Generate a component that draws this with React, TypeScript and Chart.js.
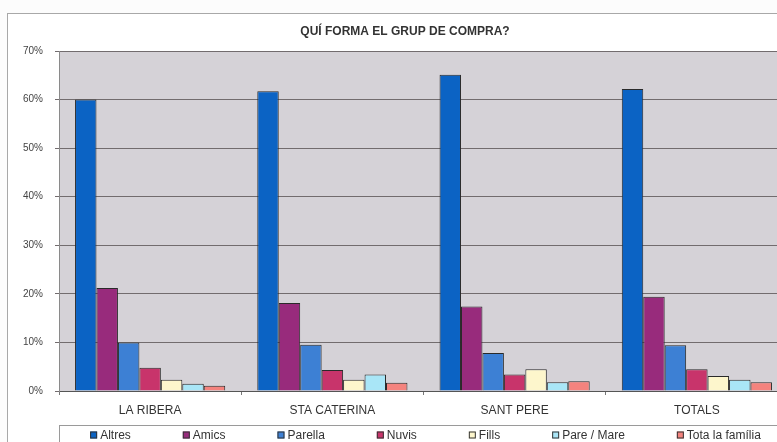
import React, { useEffect, useRef } from "react";
import { Chart, registerables } from "chart.js";

Chart.register(...registerables);

const categories = ["LA RIBERA", "STA CATERINA", "SANT PERE", "TOTALS"];
const seriesNames = ["Altres", "Amics", "Parella", "Nuvis", "Fills", "Pare / Mare", "Tota la família"];
const altres = [60.0, 61.7, 65.1, 62.2];
const amics = [21.2, 18.1, 17.4, 19.4];
const parella = [10.0, 9.5, 7.8, 9.4];
const nuvis = [4.8, 4.3, 3.4, 4.5];
const fills = [2.3, 2.3, 4.5, 3.1];
const pareMare = [1.5, 3.4, 1.8, 2.3];
const totaFamilia = [1.1, 1.7, 2.0, 1.8];
const yTicks = [0, 10, 20, 30, 40, 50, 60, 70];

const seriesValues = [altres, amics, parella, nuvis, fills, pareMare, totaFamilia];
const seriesColors = ["#0b63c4", "#982b7c", "#3d80d4", "#c8346b", "#fdf6cc", "#a9e6f7", "#f4837e"];

const FONT = "'Liberation Sans', Arial, sans-serif";

const plotBg = {
  id: "plotBg",
  beforeDraw(chart: any) {
    const { ctx, chartArea: a } = chart;
    ctx.save();
    ctx.fillStyle = "#d5d2d7";
    ctx.fillRect(a.left, a.top, a.right - a.left, a.bottom - a.top);
    ctx.restore();
  },
};

const boxLegend = {
  id: "boxLegend",
  afterDraw(chart: any) {
    const { ctx, chartArea: a } = chart;
    const ds = chart.data.datasets;
    ctx.save();
    // frame of legend
    ctx.strokeStyle = "#9a9a9a";
    ctx.lineWidth = 1;
    ctx.strokeRect(a.left + 0.5, a.bottom + 34.5, a.right - a.left + 30, 40);
    ctx.font = `12px ${FONT}`;
    ctx.textBaseline = "middle";
    const box = 7;
    const boxGap = 3;
    const gap = 52;
    const widths = ds.map((d: any) => box + boxGap + ctx.measureText(d.label).width);
    const total = widths.reduce((s: number, w: number) => s + w, 0) + gap * (ds.length - 1);
    let x = (a.left + a.right) / 2 + 2 - total / 2;
    const y = a.bottom + 44;
    ds.forEach((d: any, i: number) => {
      ctx.fillStyle = d.backgroundColor;
      ctx.fillRect(x, y - box / 2, box, box);
      ctx.strokeStyle = "#333";
      ctx.strokeRect(x + 0.5, y - box / 2 + 0.5, box - 1, box - 1);
      ctx.fillStyle = "#333";
      ctx.textAlign = "left";
      ctx.fillText(d.label, x + box + boxGap, y + 1);
      x += widths[i] + gap;
    });
    ctx.restore();
  },
};

export default function App() {
  const ref = useRef<HTMLCanvasElement | null>(null);
  useEffect(() => {
    if (!ref.current) return;
    const chart = new Chart(ref.current, {
      type: "bar",
      data: {
        labels: categories,
        datasets: seriesNames.map((name, i) => ({
          label: name,
          data: seriesValues[i],
          backgroundColor: seriesColors[i],
          borderColor: "#2a2a2a",
          borderWidth: 1,
          categoryPercentage: 0.824,
          barPercentage: 1.0,
        })),
      },
      options: {
        animation: false,
        responsive: false,
        events: [],
        layout: { padding: { left: 14, right: 14, top: 0, bottom: 23 } },
        plugins: {
          legend: { display: false },
          tooltip: { enabled: false },
          title: {
            display: true,
            text: "QUÍ FORMA EL GRUP DE COMPRA?",
            color: "#333",
            font: { family: FONT, size: 12, weight: "bold", lineHeight: 1.2 },
            padding: { top: 10.8, bottom: 11.8 },
          },
        },
        scales: {
          x: {
            grid: {
              display: true,
              offset: true,
              drawOnChartArea: false,
              drawTicks: true,
              tickLength: 4,
              color: "#777",
            },
            border: { display: true, color: "#555" },
            ticks: {
              color: "#333",
              font: { family: FONT, size: 12 },
              padding: 8,
              maxRotation: 0,
              autoSkip: false,
            },
            afterFit(scale: any) {
              scale.height = 30;
            },
          },
          y: {
            min: 0,
            max: 70,
            afterBuildTicks(scale: any) {
              scale.ticks = yTicks.map((v) => ({ value: v }));
            },
            grid: {
              color: "#726c6e",
              lineWidth: 1,
              drawTicks: true,
              tickLength: 4,
            },
            border: { display: true, color: "#8a8a8a" },
            ticks: {
              color: "#444",
              font: { family: FONT, size: 10 },
              padding: 12,
              callback: (v: any) => `${v}%`,
            },
            afterFit(scale: any) {
              scale.width = 37;
            },
          },
        },
      },
      plugins: [plotBg, boxLegend],
    });
    return () => chart.destroy();
  }, []);

  return (
    <div
      style={{
        position: "fixed",
        left: 0,
        top: 0,
        width: 777,
        height: 442,
        overflow: "hidden",
        background: "#fcfcfc",
      }}
    >
      <div
        style={{
          position: "absolute",
          left: 7,
          top: 13,
          width: 800,
          height: 440,
          border: "1px solid #a8a8a8",
          background: "#ffffff",
        }}
      >
        <canvas
          ref={ref}
          width={794}
          height={430}
          style={{ position: "absolute", left: 0, top: 0, width: 794, height: 430 }}
        />
      </div>
    </div>
  );
}
